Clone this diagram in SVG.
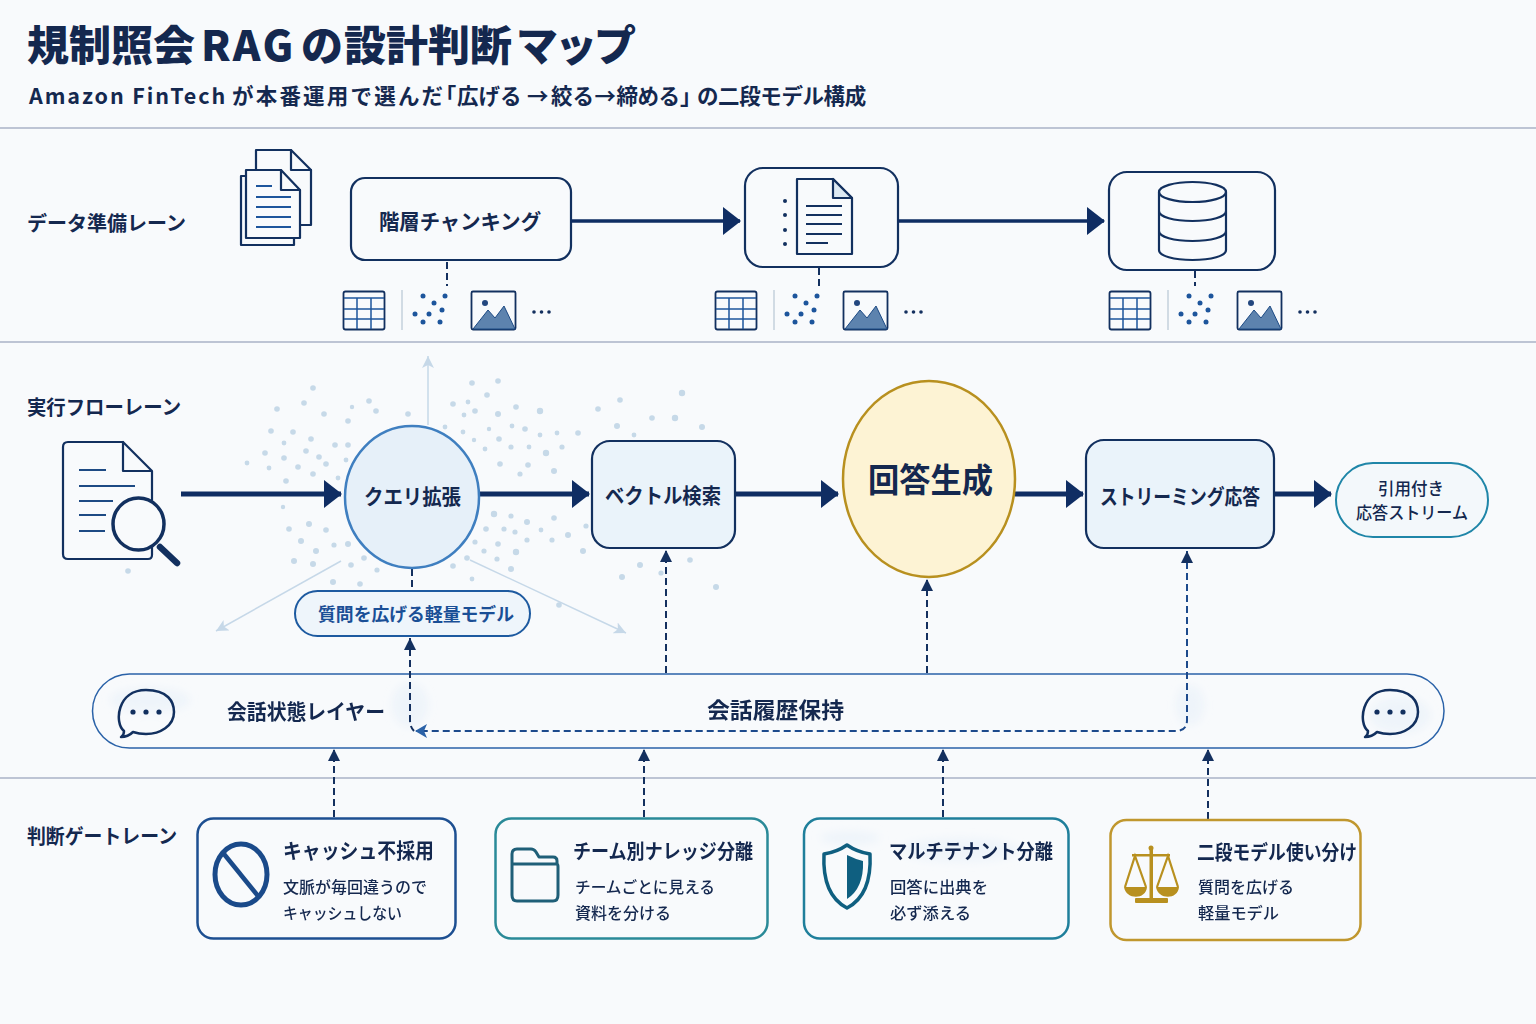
<svg xmlns="http://www.w3.org/2000/svg" width="1536" height="1024" viewBox="0 0 1536 1024">
<style>
text{font-family:"Noto Sans CJK JP","Noto Sans",sans-serif;fill:#14284f;font-weight:700}
.lane{stroke:#a9b3c6;stroke-width:1.6;fill:none}
.box{fill:#f8fafc;stroke:#12305f;stroke-width:2.2}
.ico{fill:none;stroke:#12305f;stroke-width:2.2;stroke-linejoin:round;stroke-linecap:round}
.main{stroke:#0f2d63;stroke-width:5.200;fill:none}
.thin{stroke-width:3.600}
.dash{stroke:#14305f;stroke-width:2;stroke-dasharray:7 4;fill:none}
.soft{stroke:#c6d8e8;stroke-width:1.500;fill:none}
.sub{font-weight:500;font-size:16px}
.dots circle{fill:#c6d9e8}
.wash ellipse{fill:#e2eef8;opacity:.45}
.halt{font-feature-settings:"halt"}
</style>
<defs>
<filter id="b" x="-30%" y="-30%" width="160%" height="160%"><feGaussianBlur stdDeviation="4"/></filter>
<filter id="b2" x="-5%" y="-5%" width="110%" height="110%"><feGaussianBlur stdDeviation="0.500"/></filter>
<marker id="ah" markerUnits="userSpaceOnUse" markerWidth="20" markerHeight="28" refX="17" refY="14" orient="auto"><path d="M0 0L18 14L0 28Z" fill="#0f2d63"/></marker>
<marker id="ad" markerUnits="userSpaceOnUse" markerWidth="13" markerHeight="13" refX="11" refY="6" orient="auto"><path d="M0 0L12 6L0 12Z" fill="#14305f"/></marker>
<marker id="as" markerUnits="userSpaceOnUse" markerWidth="14" markerHeight="14" refX="12" refY="6" orient="auto"><path d="M0 0L12 6L0 12L3 6Z" fill="#c6d8e8"/></marker>
<g id="row">
<rect x="343.500" y="291.500" width="41" height="38" rx="2" fill="none" stroke="#12305f" stroke-width="1.800"/>
<path d="M344 298H384M344 309H384M344 319H384M357 298V329M371 298V329" stroke="#1d559c" stroke-width="1.500" fill="none"/>
<path d="M402 290V330" stroke="#c5d0dc" stroke-width="1.500"/>
<g fill="#1d559c"><circle cx="423" cy="296" r="2.500"/><circle cx="445" cy="296" r="2.500"/><circle cx="434" cy="303" r="2.500"/><circle cx="442" cy="310" r="2.500"/><circle cx="415" cy="314" r="2.500"/><circle cx="429" cy="314" r="2.500"/><circle cx="423" cy="322" r="2.500"/><circle cx="440" cy="322" r="2.500"/></g>
<rect x="471.500" y="291.500" width="44" height="38" rx="1.500" fill="none" stroke="#12305f" stroke-width="1.800"/>
<path d="M473 329L488 310L495 318L504 306L515 329Z" fill="#5d83ae" stroke="#1d4a84" stroke-width="1"/>
<circle cx="485" cy="303" r="3" fill="#23477f"/>
<g fill="#14305f"><circle cx="534" cy="312" r="1.800"/><circle cx="541.500" cy="312" r="1.800"/><circle cx="549" cy="312" r="1.800"/></g>
</g>
<g id="bubble">
<path d="M-22 19C-32 11 -29 -22 0 -22C22 -22 28 -10 28 0C28 14 14 22 0 22C-6 22 -10 21 -13 20C-16 23 -20 25 -25 25C-23 24 -22 22 -22 19Z" fill="none" stroke="#12305f" stroke-width="2.500" stroke-linejoin="round"/>
<circle cx="-13" cy="0" r="2.600" fill="#12305f"/><circle cx="0" cy="0" r="2.600" fill="#12305f"/><circle cx="13" cy="0" r="2.600" fill="#12305f"/>
</g>
</defs>
<rect width="1536" height="1024" fill="#f8fafc"/>
<g id="title">
<text x="27" y="61" font-size="42" style="font-weight:900">規制照会<tspan x="201" letter-spacing="2.500">RAG</tspan><tspan x="301">の</tspan><tspan x="344">設計判断</tspan><tspan x="516" letter-spacing="-3">マップ</tspan></text>
<text x="29" y="104" font-size="21.500" style="font-weight:700"><tspan letter-spacing="1.900">Amazon FinTech</tspan><tspan x="232" letter-spacing="2.200">が本番運用で選んだ</tspan><tspan class="halt" x="445.500">「</tspan><tspan x="457">広げる</tspan><tspan x="527">→</tspan><tspan x="551">絞る</tspan><tspan x="594.500">→</tspan><tspan x="616.500" letter-spacing="-0.500">締める</tspan><tspan class="halt" x="680">」</tspan><tspan x="697" letter-spacing="-0.400">の二段モデル構成</tspan></text>
</g>
<g id="lanes">
<path class="lane" d="M0 128H1536M0 342H1536M0 778H1536"/>
<text x="27" y="231" font-size="20" textLength="159" lengthAdjust="spacingAndGlyphs">データ準備レーン</text>
<text x="27" y="415" font-size="20" textLength="154" lengthAdjust="spacingAndGlyphs">実行フローレーン</text>
<text x="27" y="844" font-size="20" textLength="150" lengthAdjust="spacingAndGlyphs">判断ゲートレーン</text>
</g>
<g id="particles" class="dots" filter="url(#b2)">
<circle cx="313" cy="388" r="2.800"/><circle cx="277" cy="409" r="2.800"/><circle cx="304" cy="403" r="2.800"/><circle cx="324" cy="414" r="2.800"/><circle cx="348" cy="421" r="2.800"/><circle cx="369" cy="401" r="2.800"/><circle cx="376" cy="411" r="2.800"/><circle cx="408" cy="414" r="2.800"/><circle cx="352" cy="407" r="2.200"/><circle cx="271" cy="431" r="2.800"/><circle cx="293" cy="432" r="2.800"/><circle cx="311" cy="439" r="2.800"/><circle cx="284" cy="443" r="2.400"/><circle cx="335" cy="445" r="2.800"/><circle cx="348" cy="445" r="2.800"/><circle cx="306" cy="451" r="2.800"/><circle cx="265" cy="453" r="2.800"/><circle cx="284" cy="458" r="2.800"/><circle cx="319" cy="457" r="2.800"/><circle cx="326" cy="464" r="2.800"/><circle cx="247" cy="463" r="2.400"/><circle cx="269" cy="468" r="2.400"/><circle cx="298" cy="467" r="2.800"/><circle cx="313" cy="474" r="2.800"/><circle cx="338" cy="478" r="2.400"/><circle cx="286" cy="481" r="2.800"/><circle cx="346" cy="460" r="2.400"/>
<circle cx="472" cy="383" r="2.800"/><circle cx="498" cy="381" r="2.800"/><circle cx="487" cy="395" r="2.800"/><circle cx="453" cy="404" r="2.800"/><circle cx="468" cy="402" r="2.400"/><circle cx="475" cy="411" r="2.800"/><circle cx="464" cy="415" r="2.400"/><circle cx="498" cy="414" r="3"/><circle cx="516" cy="407" r="2.800"/><circle cx="540" cy="411" r="3.200"/><circle cx="512" cy="426" r="2.400"/><circle cx="525" cy="429" r="2.800"/><circle cx="540" cy="435" r="2.400"/><circle cx="557" cy="433" r="2.400"/><circle cx="578" cy="433" r="2.800"/><circle cx="445" cy="427" r="2.400"/><circle cx="463" cy="432" r="2.400"/><circle cx="489" cy="429" r="2.200"/><circle cx="499" cy="439" r="2.800"/><circle cx="474" cy="440" r="2.200"/><circle cx="511" cy="447" r="2.600"/><circle cx="529" cy="447" r="2.400"/><circle cx="562" cy="447" r="2.600"/><circle cx="485" cy="449" r="2.400"/><circle cx="546" cy="453" r="3.200"/><circle cx="500" cy="464" r="2.800"/><circle cx="528" cy="465" r="2.800"/><circle cx="520" cy="474" r="2.600"/><circle cx="554" cy="471" r="3"/><circle cx="598" cy="409" r="2.800"/><circle cx="620" cy="400" r="2.800"/><circle cx="682" cy="393" r="3.200"/><circle cx="652" cy="418" r="2.800"/><circle cx="675" cy="418" r="3.200"/><circle cx="617" cy="426" r="3"/><circle cx="702" cy="427" r="3"/><circle cx="634" cy="435" r="2.400"/>
<circle cx="494" cy="514" r="3.200"/><circle cx="511" cy="516" r="2.600"/><circle cx="527" cy="522" r="3"/><circle cx="554" cy="518" r="2.800"/><circle cx="586" cy="526" r="2.600"/><circle cx="486" cy="529" r="2.800"/><circle cx="504" cy="529" r="2.600"/><circle cx="515" cy="532" r="2.600"/><circle cx="541" cy="530" r="2.400"/><circle cx="568" cy="535" r="3"/><circle cx="527" cy="540" r="2.600"/><circle cx="552" cy="540" r="2.600"/><circle cx="475" cy="542" r="2.600"/><circle cx="498" cy="544" r="2.800"/><circle cx="484" cy="551" r="2.600"/><circle cx="516" cy="552" r="3.200"/><circle cx="583" cy="551" r="3"/><circle cx="497" cy="559" r="2.600"/><circle cx="467" cy="558" r="2.800"/><circle cx="511" cy="569" r="3"/><circle cx="453" cy="566" r="2.800"/><circle cx="472" cy="579" r="2.400"/><circle cx="559" cy="605" r="2.800"/>
<circle cx="640" cy="565" r="3"/><circle cx="622" cy="577" r="3"/><circle cx="661" cy="573" r="2.600"/><circle cx="690" cy="560" r="2.800"/><circle cx="716" cy="587" r="3"/>
<circle cx="309" cy="524" r="3"/><circle cx="289" cy="529" r="2.800"/><circle cx="326" cy="530" r="2.800"/><circle cx="301" cy="541" r="3"/><circle cx="334" cy="545" r="2.600"/><circle cx="348" cy="544" r="3"/><circle cx="316" cy="551" r="3"/><circle cx="294" cy="561" r="3"/><circle cx="313" cy="564" r="3"/><circle cx="364" cy="558" r="2.800"/><circle cx="351" cy="565" r="2.800"/><circle cx="377" cy="570" r="2.600"/><circle cx="333" cy="582" r="3"/><circle cx="360" cy="584" r="2.800"/><circle cx="128" cy="571" r="2.800"/><circle cx="283" cy="507" r="2.200"/>
</g>
<g id="n-docs">
<path class="ico" d="M256 170V150H291L311 170V225H300"/><path class="ico" d="M291 150V170H311"/>
<path class="ico" d="M246 176H241V245H294V238"/>
<path class="ico" style="fill:#f8fafc" d="M246 170H281L300 190V238H246Z"/><path class="ico" d="M281 170V190H300"/>
<path d="M256 186H272M256 197H291M256 207H291M256 217H291M256 227H291" stroke="#1d559c" stroke-width="2.200" fill="none"/>
</g>
<g id="n-chunk"><rect class="box" x="351" y="178" width="220" height="82" rx="14"/>
<text x="379" y="229" font-size="21" textLength="162" lengthAdjust="spacingAndGlyphs">階層チャンキング</text></g>
<g id="n-doc"><rect class="box" x="745" y="168" width="153" height="99" rx="18"/>
<path class="ico" d="M797 179H833L852 198V254H797Z"/><path class="ico" style="fill:#dce9f3" d="M833 179V198H852Z"/>
<path d="M806 206H842M806 215H842M806 224H842M806 234H842M806 243H828" stroke="#12305f" stroke-width="2" fill="none"/>
<g fill="#12305f"><circle cx="785" cy="201" r="2"/><circle cx="785" cy="215" r="2"/><circle cx="785" cy="230" r="2"/><circle cx="785" cy="244" r="2"/></g></g>
<g id="n-db"><rect class="box" x="1109" y="172" width="166" height="98" rx="18"/>
<ellipse class="ico" cx="1192.500" cy="192" rx="33.500" ry="10"/>
<path class="ico" d="M1159 192V250C1159 256 1174 260 1192.500 260C1211 260 1226 256 1226 250V192M1159 211C1159 217 1174 221 1192.500 221C1211 221 1226 217 1226 211M1159 231C1159 237 1174 241 1192.500 241C1211 241 1226 237 1226 231"/></g>
<g id="n-sources"><use href="#row"/><use href="#row" x="372"/><use href="#row" x="766"/></g>
<g id="n-query">
<path class="ico" d="M123 442H68Q63 442 63 447V554Q63 559 68 559H148Q152 559 152 555V545"/><path class="ico" d="M123 442V471H152L123 442M152 471V500"/>
<path d="M79 470H106M79 486H135M79 501H113M79 515H106M79 531H105" stroke="#1d4a84" stroke-width="2.200" fill="none"/>
<ellipse cx="138.500" cy="524" rx="25.500" ry="26" fill="#f8fafc" stroke="#12305f" stroke-width="3.500"/>
<path d="M160 547L177 563" stroke="#12305f" stroke-width="6.500" stroke-linecap="round"/></g>
<g id="connectors">
<path class="soft" d="M428 425V356" marker-end="url(#as)"/>
<path class="soft" d="M341 561L216 631" marker-end="url(#as)"/>
<path class="soft" d="M470 560L626 633" marker-end="url(#as)"/>
<path class="main" d="M181 494H341" marker-end="url(#ah)"/>
<path class="main" d="M480 494H589" marker-end="url(#ah)"/>
<path class="main" d="M736 494H838" marker-end="url(#ah)"/>
<path class="main" d="M1015 494H1083" marker-end="url(#ah)"/>
<path class="main" d="M1275 494H1331" marker-end="url(#ah)"/>
<path class="main thin" d="M571 221H740" marker-end="url(#ah)"/>
<path class="main thin" d="M898 221H1104" marker-end="url(#ah)"/>
<path class="dash" d="M447 262V286M819 268V286M1195 271V286M412 569V590"/>
<path class="dash" d="M666 673V551" marker-end="url(#ad)"/>
<path class="dash" d="M927 673V580" marker-end="url(#ad)"/>
<path class="dash" d="M334 817V750" marker-end="url(#ad)"/>
<path class="dash" d="M644 817V750" marker-end="url(#ad)"/>
<path class="dash" d="M943 817V750" marker-end="url(#ad)"/>
<path class="dash" d="M1208 819V750" marker-end="url(#ad)"/>
</g>
<g id="n-expand"><ellipse cx="412" cy="497" rx="67" ry="71" fill="#e6f0f9" stroke="#3f7fc0" stroke-width="2.500"/>
<text x="364" y="504" font-size="21" textLength="97" lengthAdjust="spacingAndGlyphs">クエリ拡張</text></g>
<g id="n-vector"><rect x="592" y="441" width="143" height="107" rx="18" fill="#eaf3fa" stroke="#12305f" stroke-width="2.200"/>
<text x="605" y="503" font-size="21" textLength="116" lengthAdjust="spacingAndGlyphs">ベクトル検索</text></g>
<g id="n-answer"><ellipse cx="929" cy="479" rx="86" ry="98" fill="#fdf3d4" stroke="#b8901f" stroke-width="2.500"/>
<text x="868" y="492" font-size="33" textLength="125" lengthAdjust="spacingAndGlyphs">回答生成</text></g>
<g id="n-stream"><rect x="1086" y="440" width="188" height="108" rx="18" fill="#eaf3fa" stroke="#12305f" stroke-width="2.200"/>
<text x="1100" y="504" font-size="21" textLength="160" lengthAdjust="spacingAndGlyphs">ストリーミング応答</text></g>
<g id="n-cited"><rect x="1336" y="463" width="152" height="74" rx="37" fill="#f3f8fb" stroke="#1f86a8" stroke-width="2"/>
<text x="1378" y="495" font-size="17" textLength="66" lengthAdjust="spacingAndGlyphs" style="font-weight:500">引用付き</text>
<text x="1356" y="519" font-size="17" textLength="112" lengthAdjust="spacingAndGlyphs" style="font-weight:500">応答ストリーム</text></g>
<g id="n-light"><rect x="295" y="591" width="235" height="45" rx="22.500" fill="#eef5fb" stroke="#1d5aa0" stroke-width="2"/>
<text x="318" y="621" font-size="18" textLength="196" lengthAdjust="spacingAndGlyphs" style="fill:#1a4f96">質問を広げる軽量モデル</text></g>
<g id="n-layer"><rect x="92.500" y="674" width="1351.500" height="74" rx="37" fill="#f8fafc" stroke="#2a62a8" stroke-width="1.500"/>
<g class="wash" filter="url(#b)"><ellipse cx="150" cy="700" rx="40" ry="12"/><ellipse cx="410" cy="705" rx="18" ry="22"/><ellipse cx="1190" cy="705" rx="14" ry="20"/><ellipse cx="1400" cy="715" rx="30" ry="18"/></g>
<use href="#bubble" x="146" y="712"/><use href="#bubble" x="1390" y="712"/>
<text x="227" y="719" font-size="21" textLength="158" lengthAdjust="spacingAndGlyphs">会話状態レイヤー</text>
<text x="707" y="718" font-size="22" textLength="137" lengthAdjust="spacingAndGlyphs">会話履歴保持</text></g>
<g id="connectors-over">
<path class="dash" style="stroke:#1d4a8c" d="M1187 551V720Q1187 731 1176 731H416"/>
<path d="M1181 563L1187 551L1193 563Z" fill="#14305f"/>
<path d="M415 731L427 724L424 731L427 738Z" fill="#2a62a8"/>
<path class="dash" d="M410 638V720Q410 727 414 731"/>
<path d="M404 650L410 638L416 650Z" fill="#14305f"/>
</g>
<g id="g-cache"><rect x="197.500" y="818.500" width="258" height="120" rx="16" fill="#f8fafc" stroke="#1d4f91" stroke-width="2.500"/>
<ellipse cx="241" cy="874.500" rx="26" ry="30.500" fill="none" stroke="#1a4a8a" stroke-width="5"/>
<path d="M224 854L258 896" stroke="#1a4a8a" stroke-width="4.500"/>
<text x="283" y="858" font-size="21" textLength="151" lengthAdjust="spacingAndGlyphs">キャッシュ不採用</text>
<text class="sub" x="283" y="893" textLength="144" lengthAdjust="spacingAndGlyphs">文脈が毎回違うので</text>
<text class="sub" x="283" y="919" textLength="119" lengthAdjust="spacingAndGlyphs">キャッシュしない</text></g>
<g id="g-team"><rect x="495.500" y="818.500" width="272" height="120" rx="16" fill="#f8fafc" stroke="#2a8a98" stroke-width="2.500"/>
<path d="M512 895V854Q512 849 517 849H531Q534 849 536 852L539 857H553Q557 857 557 861V864H512M512 864H557Q558 864 558 867V895Q558 901 553 901H517Q512 901 512 895Z" fill="none" stroke="#1f5f78" stroke-width="3" stroke-linejoin="round"/>
<text x="573" y="859" font-size="20" textLength="180" lengthAdjust="spacingAndGlyphs">チーム別ナレッジ分離</text>
<text class="sub" x="575" y="893" textLength="140" lengthAdjust="spacingAndGlyphs">チームごとに見える</text>
<text class="sub" x="575" y="919" textLength="96" lengthAdjust="spacingAndGlyphs">資料を分ける</text></g>
<g id="g-tenant"><rect x="804" y="818.500" width="264.500" height="120" rx="16" fill="#f8fafc" stroke="#1f7f9b" stroke-width="2.500"/>
<g class="wash" filter="url(#b)"><ellipse cx="960" cy="850" rx="60" ry="12"/><ellipse cx="850" cy="838" rx="30" ry="7"/></g>
<path d="M847 845Q857 852 870 854Q872 895 847 908Q822 895 824 854Q837 852 847 845Z" fill="none" stroke="#0f5f80" stroke-width="3.500" stroke-linejoin="round"/>
<path d="M847 855Q855 859 863 861Q864 888 847 899Z" fill="#0f5f80"/>
<text x="889" y="859" font-size="20" textLength="164" lengthAdjust="spacingAndGlyphs">マルチテナント分離</text>
<text class="sub" x="890" y="893" textLength="98" lengthAdjust="spacingAndGlyphs">回答に出典を</text>
<text class="sub" x="890" y="919" textLength="81" lengthAdjust="spacingAndGlyphs">必ず添える</text></g>
<g id="g-two"><rect x="1110.500" y="820" width="250" height="120" rx="16" fill="#f8fafc" stroke="#c0972e" stroke-width="2.500"/>
<g fill="#b8901f" stroke="none"><circle cx="1151" cy="848" r="2.500"/><rect x="1149.500" y="848" width="3.500" height="52"/><rect x="1132" y="854" width="38" height="2.500"/><rect x="1135" y="898" width="33" height="5" rx="1"/>
<path d="M1124 887H1147C1146 900 1126 900 1124 887ZM1156 887H1179C1178 900 1158 900 1156 887Z"/></g>
<path d="M1125 887L1135 856L1146 887M1157 887L1168 856L1178 887" fill="none" stroke="#b8901f" stroke-width="2.200"/>
<text x="1197" y="860" font-size="20" textLength="160" lengthAdjust="spacingAndGlyphs">二段モデル使い分け</text>
<text class="sub" x="1198" y="893" textLength="96" lengthAdjust="spacingAndGlyphs">質問を広げる</text>
<text class="sub" x="1198" y="919" textLength="81" lengthAdjust="spacingAndGlyphs">軽量モデル</text></g>
</svg>
